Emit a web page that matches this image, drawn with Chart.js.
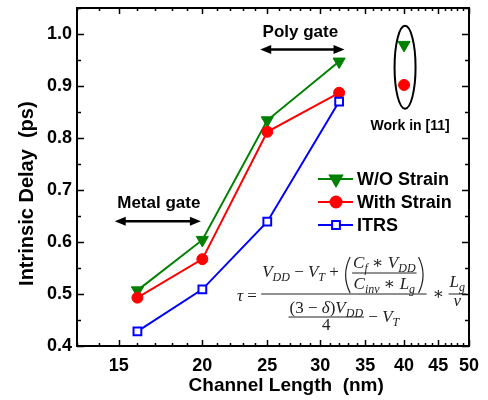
<!DOCTYPE html>
<html>
<head>
<meta charset="utf-8">
<script src="https://cdn.jsdelivr.net/npm/chart.js@4"></script>
<style>
html, body { margin: 0; padding: 0; background: #fff; }
#wrap { width: 488px; height: 400px; }
</style>
</head>
<body>
<div id="wrap"><canvas id="grafico"></canvas></div>
<script>
// dados
var channelLength = [16, 20, 25, 32];
var woStrain = [0.507, 0.604, 0.834, 0.947];
var withStrain = [0.493, 0.567, 0.812, 0.887];
var itrs = [0.428, 0.509, 0.639, 0.870];
var refLength = [40];          // "Work in [11]"
var refWoStrain = [0.979];
var refWithStrain = [0.902];
var xTickLabels = [15, 20, 25, 30, 35, 40, 45, 50];
var yTickLabels = [0.4, 0.5, 0.6, 0.7, 0.8, 0.9, 1.0];
var legendNames = ['W/O Strain', 'With Strain', 'ITRS'];

var SANS = '"Liberation Sans", Arial, sans-serif';
var SERIF = '"Liberation Serif", "DejaVu Serif", serif';
var GREEN = '#008000', RED = '#ff0000', BLUE = '#0000ff';

Chart.defaults.font.family = SANS;
Chart.defaults.font.weight = 'bold';
Chart.defaults.color = '#000';

function pares(xs, ys) {
    return xs.map(function(x, i) { return {x: x, y: ys[i]}; });
}

function seta(ctx, x1, x2, y) {
    var L = 11, H = 4.5;
    ctx.lineWidth = 2.5;
    ctx.beginPath();
    ctx.moveTo(x1 + L - 1, y);
    ctx.lineTo(x2 - L + 1, y);
    ctx.stroke();
    ctx.beginPath();
    ctx.moveTo(x1, y); ctx.lineTo(x1 + L, y - H); ctx.lineTo(x1 + L, y + H); ctx.closePath();
    ctx.moveTo(x2, y); ctx.lineTo(x2 - L, y - H); ctx.lineTo(x2 - L, y + H); ctx.closePath();
    ctx.fill();
}

// escreve uma sequencia de pedacos: [texto, estilo]  estilo: 'n' normal, 'i' italico, 'si' subscrito italico
function runMath(ctx, parts, x, y, draw) {
    var cx = x;
    for (var i = 0; i < parts.length; i++) {
        var txt = parts[i][0], st = parts[i][1];
        var sub = st.charAt(0) === 's';
        ctx.font = (st.indexOf('i') >= 0 ? 'italic ' : '') + (sub ? 12 : 17) + 'px ' + SERIF;
        if (draw) ctx.fillText(txt, cx, sub ? y + 4 : y);
        cx += ctx.measureText(txt).width;
    }
    return cx - x;
}

function paren(ctx, x, top, bottom, dir) {
    var mid = (top + bottom) / 2;
    ctx.lineWidth = 1.2;
    ctx.beginPath();
    ctx.moveTo(x, top);
    ctx.quadraticCurveTo(x - dir * 9, mid, x, bottom);
    ctx.stroke();
}

function drawFormula(ctx) {
    var tau = [['τ', 'i'], [' = ', 'n']];
    var num1 = [['V', 'i'], ['DD', 'si'], [' − ', 'n'], ['V', 'i'], ['T', 'si'], [' + ', 'n']];
    var inTop = [['C', 'i'], ['f', 'si'], [' ∗ ', 'n'], ['V', 'i'], ['DD', 'si']];
    var inBot = [['C', 'i'], ['inv', 'si'], [' ∗ ', 'n'], ['L', 'i'], ['g', 'si']];
    var den1 = [['(3 − ', 'n'], ['δ', 'i'], [')', 'n'], ['V', 'i'], ['DD', 'si']];
    var den2 = [['4', 'n']];
    var den3 = [[' − ', 'n'], ['V', 'i'], ['T', 'si']];
    var lg = [['L', 'i'], ['g', 'si']];
    var vv = [['v', 'i']];

    var axisY = 294, x0 = 237;
    ctx.save();
    ctx.fillStyle = '#222';
    ctx.strokeStyle = '#222';
    ctx.textAlign = 'left';
    ctx.textBaseline = 'alphabetic';

    var left = x0 + runMath(ctx, tau, x0, axisY + 7, true);
    var w1 = runMath(ctx, num1, 0, 0, false);
    var wTop = runMath(ctx, inTop, 0, 0, false);
    var wBot = runMath(ctx, inBot, 0, 0, false);
    var wIn = Math.max(wTop, wBot) + 2;
    var pw = 9;
    var numW = w1 + pw + wIn + pw;
    var wD1 = runMath(ctx, den1, 0, 0, false);
    var wD2 = runMath(ctx, den2, 0, 0, false);
    var wD3 = runMath(ctx, den3, 0, 0, false);
    var wDf = Math.max(wD1, wD2) + 2;
    var denW = wDf + wD3;
    var barW = Math.max(numW, denW) + 2;

    ctx.lineWidth = 1;
    ctx.beginPath();
    ctx.moveTo(left, axisY); ctx.lineTo(left + barW, axisY);
    ctx.stroke();

    // numerador
    var nx = left + (barW - numW) / 2;
    runMath(ctx, num1, nx, axisY - 17, true);
    var px = nx + w1 + 7;
    paren(ctx, px, axisY - 37, axisY - 1, 1);
    var ix = nx + w1 + pw;
    runMath(ctx, inTop, ix + (wIn - wTop) / 2, axisY - 26, true);
    runMath(ctx, inBot, ix + (wIn - wBot) / 2, axisY - 5, true);
    ctx.lineWidth = 1;
    ctx.beginPath();
    ctx.moveTo(ix, axisY - 21); ctx.lineTo(ix + wIn, axisY - 21);
    ctx.stroke();
    paren(ctx, ix + wIn + 2, axisY - 37, axisY - 1, -1);

    // denominador
    var dx = left + (barW - denW) / 2;
    runMath(ctx, den1, dx + (wDf - wD1) / 2, axisY + 19, true);
    runMath(ctx, den2, dx + (wDf - wD2) / 2, axisY + 36, true);
    ctx.lineWidth = 1;
    ctx.beginPath();
    ctx.moveTo(dx, axisY + 23); ctx.lineTo(dx + wDf, axisY + 23);
    ctx.stroke();
    runMath(ctx, den3, dx + wDf, axisY + 28, true);

    // * Lg / v
    var sx = left + barW + 2;
    var ws = runMath(ctx, [[' ∗ ', 'n']], sx, axisY + 5, true);
    var fx = sx + ws;
    var wL = runMath(ctx, lg, 0, 0, false);
    var wV = runMath(ctx, vv, 0, 0, false);
    var wF = Math.max(wL, wV) + 2;
    runMath(ctx, lg, fx + (wF - wL) / 2, axisY - 7, true);
    runMath(ctx, vv, fx + (wF - wV) / 2, axisY + 12, true);
    ctx.lineWidth = 1;
    ctx.beginPath();
    ctx.moveTo(fx, axisY); ctx.lineTo(fx + wF, axisY);
    ctx.stroke();
    ctx.restore();
}

var moldura = {
    id: 'moldura',
    afterDraw: function(chart) {
        var ctx = chart.ctx;
        var a = chart.chartArea;
        var xs = chart.scales.x, ys = chart.scales.y;
        ctx.save();
        ctx.strokeStyle = '#000';
        ctx.fillStyle = '#000';
        ctx.lineWidth = 2;
        ctx.strokeRect(a.left, a.top, a.right - a.left, a.bottom - a.top);

        // marcas dos eixos, para dentro
        ctx.lineWidth = 1.5;
        ctx.beginPath();
        xs.ticks.forEach(function(t) {
            var px = Math.round(xs.getPixelForValue(t.value)) + 0.5;
            var len = xTickLabels.indexOf(t.value) >= 0 ? 6 : 3;
            ctx.moveTo(px, a.bottom); ctx.lineTo(px, a.bottom - len);
            ctx.moveTo(px, a.top); ctx.lineTo(px, a.top + len);
        });
        ys.ticks.forEach(function(t) {
            var py = Math.round(ys.getPixelForValue(t.value)) + 0.5;
            var r = Math.round(t.value * 100);
            var len = r % 10 === 0 ? 7 : 4;
            ctx.moveTo(a.left, py); ctx.lineTo(a.left + len, py);
            ctx.moveTo(a.right, py); ctx.lineTo(a.right - len, py);
        });
        ctx.stroke();

        // legenda
        var cores = [GREEN, RED, BLUE];
        var estilos = [
            {pointStyle: 'triangle', radius: 7, rotation: 180, borderWidth: 1},
            {pointStyle: 'circle', radius: 5.5, rotation: 0, borderWidth: 1},
            {pointStyle: 'rect', radius: 5.5, rotation: 0, borderWidth: 2}
        ];
        ctx.font = 'bold 18px ' + SANS;
        ctx.textBaseline = 'middle';
        ctx.textAlign = 'left';
        for (var i = 0; i < legendNames.length; i++) {
            var ly = 179 + i * 23;
            ctx.strokeStyle = cores[i];
            ctx.lineWidth = 2;
            ctx.beginPath();
            ctx.moveTo(318, ly); ctx.lineTo(353, ly);
            ctx.stroke();
            ctx.fillStyle = i === 2 ? '#fff' : cores[i];
            Chart.helpers.drawPoint(ctx, estilos[i], 336, ly);
            ctx.fillStyle = '#000';
            ctx.fillText(legendNames[i], 357, ly + 1);
        }

        // anotacoes
        ctx.fillStyle = '#000';
        ctx.strokeStyle = '#000';
        ctx.textAlign = 'center';
        ctx.textBaseline = 'alphabetic';
        ctx.font = 'bold 17px ' + SANS;
        var m1 = xs.getPixelForValue(14.8), m2 = xs.getPixelForValue(19.9), my = ys.getPixelForValue(0.64);
        seta(ctx, m1, m2, my);
        ctx.fillText('Metal gate', (m1 + m2) / 2 + 1, my - 13);
        var p1 = xs.getPixelForValue(24.4), p2 = xs.getPixelForValue(32.6), py2 = ys.getPixelForValue(0.97);
        seta(ctx, p1, p2, py2);
        ctx.fillText('Poly gate', (p1 + p2) / 2 - 2, py2 - 13);

        var ex = xs.getPixelForValue(40) + 1, ey = ys.getPixelForValue(0.936);
        ctx.lineWidth = 2;
        ctx.beginPath();
        ctx.ellipse(ex, ey, 10.5, 41.5, 0, 0, Math.PI * 2);
        ctx.stroke();
        ctx.font = 'bold 14px ' + SANS;
        ctx.fillText('Work in [11]', ex + 5, ey + 63);
        ctx.restore();

        drawFormula(ctx);
    }
};

var ctx = document.getElementById('grafico');
var grafico = new Chart(ctx, {
    type: 'line',
    data: {
        datasets: [{
            label: legendNames[0],
            data: pares(channelLength, woStrain),
            borderColor: GREEN,
            backgroundColor: GREEN,
            borderWidth: 2,
            pointStyle: 'triangle',
            pointRotation: 180,
            pointRadius: 7,
            pointBorderWidth: 1,
            order: 3
        }, {
            label: legendNames[1],
            data: pares(channelLength, withStrain),
            borderColor: RED,
            backgroundColor: RED,
            borderWidth: 2,
            pointStyle: 'circle',
            pointRadius: 5.5,
            pointBorderWidth: 1,
            order: 2
        }, {
            label: legendNames[2],
            data: pares(channelLength, itrs),
            borderColor: BLUE,
            backgroundColor: '#fff',
            borderWidth: 2,
            pointStyle: 'rect',
            pointRadius: 5.5,
            pointBorderWidth: 2,
            order: 1
        }, {
            label: 'ref W/O',
            data: pares(refLength, refWoStrain),
            showLine: false,
            borderColor: GREEN,
            backgroundColor: GREEN,
            pointStyle: 'triangle',
            pointRotation: 180,
            pointRadius: 7,
            pointBorderWidth: 1
        }, {
            label: 'ref With',
            data: pares(refLength, refWithStrain),
            showLine: false,
            borderColor: RED,
            backgroundColor: RED,
            pointStyle: 'circle',
            pointRadius: 5.5,
            pointBorderWidth: 1
        }]
    },
    options: {
        responsive: true,
        maintainAspectRatio: false,
        animation: false,
        devicePixelRatio: 1,
        layout: { padding: { top: 8, right: 17, left: 0, bottom: 0 } },
        plugins: { legend: { display: false }, tooltip: { enabled: false } },
        scales: {
            x: {
                type: 'logarithmic',
                min: 13,
                max: 50,
                afterBuildTicks: function(s) {
                    var t = [];
                    for (var v = 13; v <= 50; v++) t.push({value: v});
                    s.ticks = t;
                },
                afterFit: function(s) { s.height = 54; },
                grid: { display: false, drawTicks: false },
                border: { display: false },
                ticks: {
                    autoSkip: false,
                    maxRotation: 0,
                    padding: 9,
                    font: { size: 18 },
                    callback: function(v) { return xTickLabels.indexOf(v) >= 0 ? String(v) : ''; }
                },
                title: {
                    display: true,
                    text: '     Channel Length  (nm)',
                    font: { size: 19 },
                    padding: { top: 0, bottom: 3 }
                }
            },
            y: {
                min: 0.4,
                max: 1.05,
                afterBuildTicks: function(s) {
                    var t = [];
                    for (var k = 8; k <= 21; k++) t.push({value: k * 0.05});
                    s.ticks = t;
                },
                afterFit: function(s) {
                    s.width = 77;
                    s.paddingTop = 0;
                    s.paddingBottom = 0;
                },
                grid: { display: false, drawTicks: false },
                border: { display: false },
                ticks: {
                    padding: 5,
                    font: { size: 18 },
                    callback: function(v) {
                        var r = Math.round(v * 100);
                        return yTickLabels.indexOf(r / 100) >= 0 ? (r / 100).toFixed(1) : '';
                    }
                },
                title: {
                    display: true,
                    text: 'Intrinsic Delay  (ps)      ',
                    font: { size: 20 },
                    padding: { top: 15, bottom: 0 }
                }
            }
        }
    },
    plugins: [moldura]
});
</script>
</body>
</html>
